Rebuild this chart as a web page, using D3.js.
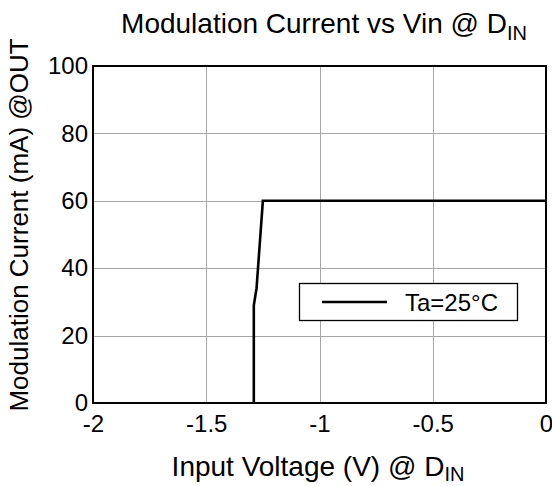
<!DOCTYPE html>
<html>
<head>
<meta charset="utf-8">
<script src="https://cdn.jsdelivr.net/npm/d3@7"></script>
<style>
  html, body { margin: 0; padding: 0; background: #fff; }
  svg { display: block; font-family: "Liberation Sans", Arial, sans-serif; }
</style>
</head>
<body>
<svg id="chart" width="552" height="486"></svg>
<script>
// Measured modulation current vs input voltage, Ta = 25°C
const vin = [-1.29, -1.29, -1.278, -1.25, 0];
const current = [0, 29, 34, 60, 60];
const xTicks = [-2, -1.5, -1, -0.5, 0];
const yTicks = [0, 20, 40, 60, 80, 100];
const legendLabel = "Ta=25°C";

const svg = d3.select("#chart");
const margin = { left: 93, right: 6, top: 66, bottom: 83 };
const W = 552, H = 486;
const x = d3.scaleLinear().domain([-2, 0]).range([margin.left, W - margin.right]);
const y = d3.scaleLinear().domain([0, 100]).range([H - margin.bottom, margin.top]);

// grid
const grid = svg.append("g").attr("stroke", "#a6a6a6").attr("stroke-width", 1);
grid.selectAll("line.gx").data(xTicks.slice(1, -1)).join("line")
  .attr("x1", d => Math.round(x(d)) + 0.5).attr("x2", d => Math.round(x(d)) + 0.5)
  .attr("y1", y(0)).attr("y2", y(100));
grid.selectAll("line.gy").data(yTicks.slice(1, -1)).join("line")
  .attr("y1", d => Math.round(y(d)) + 0.5).attr("y2", d => Math.round(y(d)) + 0.5)
  .attr("x1", x(-2)).attr("x2", x(0));

// axes (labels only)
const xAxis = svg.append("g").attr("transform", `translate(0,${y(0)})`)
  .call(d3.axisBottom(x).tickValues(xTicks).tickSize(0).tickPadding(12)
    .tickFormat(d => String(d)));
const yAxis = svg.append("g").attr("transform", `translate(${x(-2)},0)`)
  .call(d3.axisLeft(y).tickValues(yTicks).tickSize(0).tickPadding(5));
[xAxis, yAxis].forEach(a => {
  a.select(".domain").remove();
  a.selectAll("text").attr("font-size", 24).attr("fill", "#000")
    .attr("font-family", "'Liberation Sans', Arial, sans-serif");
});

// curve
const line = d3.line().x((d, i) => x(vin[i])).y((d, i) => y(current[i]));
svg.append("path").datum(current).attr("d", line)
  .attr("fill", "none").attr("stroke", "#000").attr("stroke-width", 2.6)
  .attr("stroke-linejoin", "miter");

// frame
svg.append("rect").attr("x", x(-2)).attr("y", y(100))
  .attr("width", x(0) - x(-2)).attr("height", y(0) - y(100))
  .attr("fill", "none").attr("stroke", "#000").attr("stroke-width", 2);

// legend
const lg = svg.append("g");
lg.append("rect").attr("x", 299.5).attr("y", 283.5).attr("width", 218).attr("height", 37)
  .attr("fill", "#fff").attr("stroke", "#000").attr("stroke-width", 1.3);
lg.append("line").attr("x1", 322).attr("x2", 387).attr("y1", 302).attr("y2", 302)
  .attr("stroke", "#000").attr("stroke-width", 2.6);
lg.append("text").attr("x", 405).attr("y", 311).attr("font-size", 24).text(legendLabel);

// title
const title = svg.append("text").attr("x", 324).attr("y", 33).attr("text-anchor", "middle")
  .attr("font-size", 28);
title.append("tspan").text("Modulation Current vs Vin @ D");
title.append("tspan").attr("font-size", 20).attr("dy", 7).text("IN");

// x label
const xl = svg.append("text").attr("x", 318).attr("y", 476).attr("text-anchor", "middle")
  .attr("font-size", 28);
xl.append("tspan").text("Input Voltage (V) @ D");
xl.append("tspan").attr("font-size", 20).attr("dy", 5).text("IN");

// y label
svg.append("text").attr("transform", `translate(28,225) rotate(-90)`)
  .attr("text-anchor", "middle").attr("font-size", 26)
  .text("Modulation Current (mA) @OUT");
</script>
</body>
</html>
